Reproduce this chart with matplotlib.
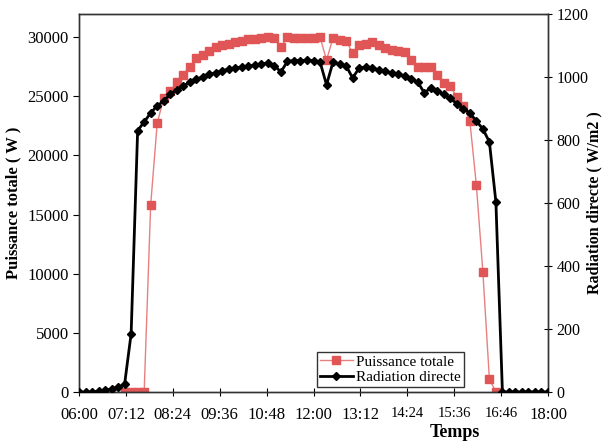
import numpy as np
import matplotlib
matplotlib.use('Agg')
import matplotlib.pyplot as plt

# mesures toutes les 10 minutes, de 06:00 a 18:00
heures = 6 + np.arange(73) / 6.0

# radiation directe (W/m2), 06:00 -> 18:00
radiation = [
    0, 0, 0, 3, 5, 10, 15, 25,
    185, 830, 857, 886, 908, 924, 945, 960, 972, 983, 993, 1000,
    1008, 1014, 1020, 1025, 1029, 1032, 1035, 1038, 1042, 1044,
    1036, 1016, 1050, 1052, 1052, 1053, 1052, 1048, 975, 1048,
    1040, 1036, 997, 1028, 1032, 1030, 1022, 1018, 1013, 1008,
    1004, 995, 984, 950, 965, 955, 945, 932, 915, 900,
    886, 860, 835, 794, 603,
    0, 0, 0, 0, 0, 0, 0, 0,
]

# puissance totale (W), 07:10 -> 16:40
puissance_debut = 7
puissance = [
    0, 0, 0, 0, 15800, 22700, 24850, 25400, 26200, 26800,
    27500, 28200, 28500, 28800, 29150, 29300, 29450, 29600, 29700, 29800,
    29850, 29950, 30000, 29900, 29150, 30000, 29950, 29950, 29950, 29950,
    30000, 28050, 29950, 29750, 29700, 28650, 29300, 29400, 29600, 29300,
    29100, 28900, 28850, 28750, 28100, 27450, 27500, 27450, 26800, 26100,
    25900, 24900, 24200, 22900, 17500, 10150, 1100, 0,
]

tick_labels = ['06:00', '07:12', '08:24', '09:36', '10:48', '12:00',
               '13:12', '14:24', '15:36', '16:46', '18:00']

plt.rcParams['font.family'] = ['Liberation Serif', 'DejaVu Serif']

fig = plt.figure(figsize=(6.05, 4.43), dpi=100)
ax = fig.add_axes([0.1306, 0.1151, 0.7752, 0.8533])
ax2 = ax.twinx()

x_p = heures[puissance_debut:puissance_debut + len(puissance)]
ax.plot(x_p, puissance, color='#e88080', lw=1.0, marker='s', ms=5.5,
        mfc='#e05555', mec='#e05555', zorder=2)
l1, = ax.plot([], [], color='#e88080', lw=1.0, marker='s', ms=5.5,
              mfc='#e05555', mec='#e05555', label='Puissance totale')
l2, = ax.plot([], [], color='black', lw=2.0, marker='D', ms=4,
              label='Radiation directe')
ax2.plot(heures, radiation, color='black', lw=2.0, marker='D', ms=4, zorder=3)

ax.set_xlim(6, 18)
ax.set_ylim(0, 31950)
ax2.set_ylim(0, 1200)
ax.set_yticks(np.arange(0, 30001, 5000))
ax2.set_yticks(np.arange(0, 1201, 200))
ax.set_xticks(6 + 1.2 * np.arange(11))
ax.set_xticklabels(tick_labels)
for lab in ax.get_xticklabels():
    if lab.get_text() in ('14:24', '15:36', '16:46'):
        lab.set_fontsize(10.5)
    else:
        lab.set_fontsize(12)

ax.tick_params(axis='y', labelsize=12, direction='out', length=4)
ax.tick_params(axis='x', direction='inout', length=6, pad=8)
ax2.tick_params(axis='y', labelsize=11.5, direction='inout', length=6, pad=3)

for a in (ax, ax2):
    for s in a.spines.values():
        s.set_linewidth(1.0)
        s.set_color('#333333')

ax.set_ylabel('Puissance totale ( W )', fontsize=12, fontweight='bold', labelpad=4)
ax2.set_ylabel('Radiation directe ( W/m2 )', fontsize=11.5, fontweight='bold')
ax2.yaxis.set_label_coords(1.082, 0.5)
fig.text(0.752, 0.005, 'Temps', fontsize=13, fontweight='bold', ha='center', va='bottom')

leg = ax.legend(handles=[l1, l2], loc='lower left', bbox_to_anchor=(0.50, 0.005),
                fontsize=11, frameon=True, fancybox=False, borderpad=0.2,
                handlelength=2.2, handletextpad=0.2, labelspacing=0.1,
                borderaxespad=0.2)
leg.get_frame().set_edgecolor('black')
leg.get_frame().set_linewidth(1.0)
leg.set_zorder(5)

plt.savefig('out.png', dpi=100)
